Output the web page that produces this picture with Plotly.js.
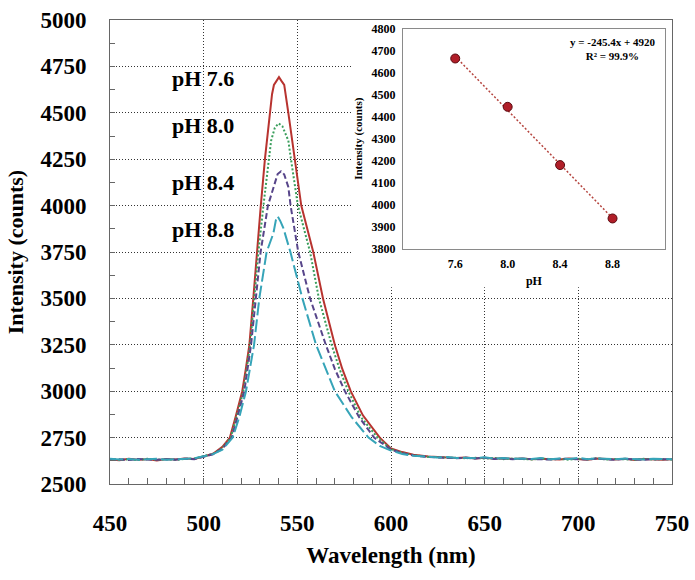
<!DOCTYPE html>
<html>
<head>
<meta charset="utf-8">
<script src="https://cdn.plot.ly/plotly-3.0.1.min.js"></script>
<style>html,body{margin:0;padding:0;background:#fff;}#chart{width:695px;height:580px;}</style>
</head>
<body>
<div id="chart"></div>
<script>
// ---- Spectra (wavelength nm, intensity counts) ----
const wl76 = [450,455,460,465,470,475,480,485,490,495,500,505,510,
  514,517,520.6,522.5,524.4,526.5,528.3,530.5,532.7,535.4,536.5,537.5,539,540.2,541.5,543,545.2,548.8,552.1,558.5,563.7,570,574,578.5,585,594,600,606,612,
  620,625,630,635,640,645,650,655,660,665,670,675,680,685,690,695,700,705,710,715,720,725,730,735,740,745,750];
const int76 = [2632,2628,2636,2631,2634,2627,2635,2632,2637,2635,2648,2663,2700,
  2750,2860,3000,3120,3250,3500,3750,4000,4250,4500,4600,4650,4676,4692,4672,4650,4500,4250,4000,3750,3500,3250,3120,3000,2870,2750,2692,2672,2658,
  2648,2645,2642,2640,2643,2638,2641,2636,2639,2635,2638,2633,2636,2634,2632,2637,2635,2631,2638,2634,2632,2636,2630,2635,2633,2631,2633];

const wl80 = [450,455,460,465,470,475,480,485,490,495,500,505,510,
  514.4,517.5,521.2,524.8,527,529.2,531.9,534.9,536,538,540,542,545.2,546.6,550.3,556.8,561.5,568.3,572.5,577.2,584,592.8,600,606,612,
  620,625,630,635,640,645,650,655,660,665,670,675,680,685,690,695,700,705,710,715,720,725,730,735,740,745,750];
const int80 = [2634,2630,2633,2629,2636,2631,2633,2630,2635,2637,2650,2662,2695,
  2750,2860,3000,3250,3500,3750,4000,4250,4350,4420,4443,4428,4350,4250,4000,3750,3500,3250,3120,3000,2860,2750,2688,2668,2655,
  2646,2644,2640,2642,2639,2641,2637,2640,2634,2637,2635,2632,2637,2633,2635,2631,2636,2633,2639,2632,2635,2633,2631,2636,2632,2634,2632];

const wl84 = [450,455,460,465,470,475,480,485,490,495,500,505,510,
  515,518,521.7,525.3,527.9,530.4,534.3,537.2,539.5,541.3,543,545.2,546.4,550.5,556.8,565.2,570,575.4,583,591,600,606,612,
  620,625,630,635,640,645,650,655,660,665,670,675,680,685,690,695,700,705,710,715,720,725,730,735,740,745,750];
const int84 = [2630,2633,2629,2635,2632,2630,2634,2631,2636,2634,2647,2660,2690,
  2750,2860,3000,3250,3500,3750,4000,4100,4170,4185,4168,4100,4000,3750,3500,3250,3120,3000,2860,2750,2685,2666,2653,
  2645,2642,2643,2639,2641,2637,2642,2635,2638,2634,2636,2634,2635,2632,2636,2633,2634,2632,2637,2633,2631,2635,2634,2630,2634,2632,2634];

const wl88 = [450,455,460,465,470,475,480,485,490,495,500,505,510,
  515.5,519,522.6,526.9,529.7,533.6,537.2,538.5,539.5,541,542.5,546.3,552.7,560,565,570,579,588,594,600,606,612,
  620,625,630,635,640,645,650,655,660,665,670,675,680,685,690,695,700,705,710,715,720,725,730,735,740,745,750];
const int88 = [2636,2632,2635,2630,2633,2636,2631,2634,2633,2638,2649,2661,2685,
  2750,2860,3000,3250,3500,3750,3850,3920,3942,3915,3880,3750,3500,3250,3120,3000,2860,2750,2705,2680,2662,2652,
  2647,2643,2645,2640,2642,2639,2644,2637,2640,2636,2638,2635,2640,2634,2637,2635,2641,2634,2638,2636,2633,2637,2635,2632,2636,2633,2634];

const seriesNames = ['pH 7.6','pH 8.0','pH 8.4','pH 8.8'];

// ---- Inset: peak intensity vs pH ----
const phValues = [7.6, 8.0, 8.4, 8.8];
const peakInt = [4665, 4445, 4180, 3937];
const fitSlope = -245.4;
const fitIntercept = 4920;
const fitR2 = '99.9%';

const FONT = 'Liberation Serif, Times New Roman, serif';

const styles = [
  {color:'#B8332F', dash:'solid'},
  {color:'#3A9E5C', dash:'2px,2px'},
  {color:'#57458A', dash:'6px,3px'},
  {color:'#36A4B8', dash:'13px,4px'}
];
const wls = [wl76, wl80, wl84, wl88];
const ints = [int76, int80, int84, int88];

const traces = wls.map((w, i) => ({
  type:'scatter', mode:'lines', x:w, y:ints[i], name:seriesNames[i],
  line:{color:styles[i].color, width:2, dash:styles[i].dash}, xaxis:'x', yaxis:'y'
}));

const fitIdx = phValues.map((_, i) => i + 1);
traces.push({
  type:'scatter', mode:'lines', x:phValues, y:fitIdx.map(k => fitSlope * k + fitIntercept),
  line:{color:'#B5453F', width:1.5, dash:'2px,2px'}, xaxis:'x2', yaxis:'y2'
});
traces.push({
  type:'scatter', mode:'markers', x:phValues, y:peakInt,
  marker:{size:9, color:'#B01E28', line:{color:'#5A0A10', width:1}}, xaxis:'x2', yaxis:'y2'
});

const labelY = [4687, 4432, 4125, 3873];
const annotations = seriesNames.map((t, i) => ({
  text:t, x:482, y:labelY[i], xref:'x', yref:'y', xanchor:'left', yanchor:'middle',
  showarrow:false, font:{family:FONT, size:22, weight:'bold', color:'#000'}
}));
annotations.push({
  text:'y = ' + fitSlope + 'x + ' + fitIntercept + '<br>R² = ' + fitR2,
  x:8.8, y:4706, xref:'x2', yref:'y2', xanchor:'center', yanchor:'middle', align:'center',
  showarrow:false, font:{family:FONT, size:11, weight:'bold', color:'#000'}
});

const boldFont = (s) => ({family:FONT, size:s, weight:'bold', color:'#000'});

const layout = {
  width:695, height:580,
  margin:{l:110, r:23, t:20, b:96},
  paper_bgcolor:'#fff', plot_bgcolor:'#fff',
  showlegend:false,
  font:{family:FONT, color:'#000'},
  xaxis:{
    range:[450,750], tick0:450, dtick:50, ticks:'inside', ticklen:6, tickcolor:'#666',
    showgrid:true, gridcolor:'#333', griddash:'1px,2px', gridwidth:1,
    showline:true, linecolor:'#666', linewidth:1, mirror:true, zeroline:false,
    minor:{dtick:10, ticks:'inside', ticklen:6, tickcolor:'#666', showgrid:false},
    tickfont:boldFont(23), ticklabelstandoff:18,
    title:{text:'Wavelength (nm)', font:boldFont(23), standoff:12}
  },
  yaxis:{
    range:[2500,5000], tick0:2500, dtick:250, ticks:'inside', ticklen:5, tickcolor:'#666',
    showgrid:true, gridcolor:'#333', griddash:'1px,2px', gridwidth:1,
    showline:true, linecolor:'#666', linewidth:1, mirror:true, zeroline:false,
    minor:{dtick:125, ticks:'inside', ticklen:5, tickcolor:'#666', showgrid:false},
    tickfont:boldFont(23), ticklabelstandoff:18,
    title:{text:'Intensity (counts)', font:boldFont(22), standoff:10}
  },
  xaxis2:{
    domain:[0.521, 0.9875], anchor:'y2', range:[7.2, 9.2],
    tickvals:phValues, tickformat:'.1f', ticks:'', showgrid:false, zeroline:false,
    showline:true, linecolor:'#8a8a8a', linewidth:1, mirror:true,
    tickfont:boldFont(12), ticklabelstandoff:4,
    title:{text:'pH', font:boldFont(12), standoff:6}
  },
  yaxis2:{
    domain:[0.5074, 0.981], anchor:'x2', range:[3800, 4800], dtick:100,
    ticks:'', showgrid:false, zeroline:false,
    showline:true, linecolor:'#8a8a8a', linewidth:1, mirror:true,
    tickfont:boldFont(12), ticklabelstandoff:4,
    title:{text:'Intensity (counts)', font:boldFont(11), standoff:6}
  },
  shapes:[{
    type:'rect', xref:'x', yref:'y', x0:579, x1:750, y0:3560, y1:5000,
    fillcolor:'#fff', line:{width:0}, layer:'between'
  }],
  annotations:annotations
};

Plotly.newPlot('chart', traces, layout, {displayModeBar:false, staticPlot:true});
</script>
</body>
</html>
